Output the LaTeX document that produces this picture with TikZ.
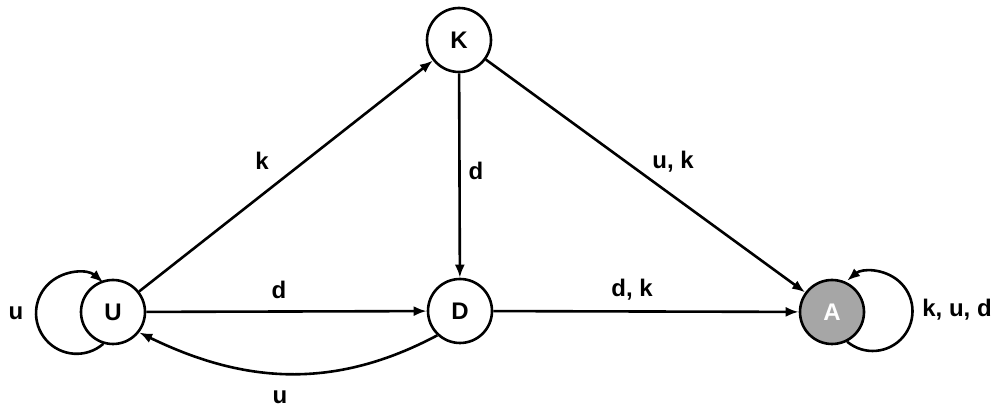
\documentclass[tikz,border=0pt]{standalone}
\usepackage{fontspec}
\setmainfont{Liberation Sans}
\usepackage{tikz}
\usetikzlibrary{arrows.meta,positioning}

\begin{document}
\begin{tikzpicture}[
    every node/.style={font=\fontsize{12}{14}\selectfont\bfseries},
    state/.style={circle, draw=black, line width=1.3pt, minimum size=32pt,
        inner sep=0pt, fill=white},
    accept/.style={state, fill=gray!70, text=white},
    arrow/.style={-{Latex[length=6.5pt,width=5pt]}, line width=1.3pt},
    lbl/.style={inner sep=1pt},
    x=0.5pt, y=-0.5pt,
    ]
    \useasboundingbox (0,0) rectangle (995,410);
    % States
    \node[state]  (U) at (113,312) {U};
    \node[state]  (K) at (459,40)  {K};
    \node[state]  (D) at (460,311) {D};
    \node[accept] (A) at (832,312) {A};
    % Transitions
    \draw[arrow] (U) -- (K);
    \draw[arrow] (U) -- (D);
    \draw[arrow] (K) -- (D);
    \draw[arrow] (K) -- (A);
    \draw[arrow] (D) -- (A);
    \draw[arrow] (D.-133) to[out=208, in=-26] (U.-38);
    % Self loops
    \draw[arrow] (U.-107) arc[start angle=-49, end angle=-311, radius=20.3pt];
    \draw[arrow] (A.-63) arc[start angle=-130, end angle=130, radius=19.9pt];
    % Labels
    \node[lbl] (lUK) at (262,161) {k};
    \node[lbl] (lUD) at (279,290) {d};
    \node[lbl] (lKD) at (476,171) {d};
    \node[lbl] (lKA) at (673,162) {u, k};
    \node[lbl] (lDA) at (632,290) {d, k};
    \node[lbl] (lDU) at (280,397) {u};
    \node[lbl] (lUU) at (16,313)  {u};
    \node[lbl] (lAA) at (957,310) {k, u, d};
\end{tikzpicture}
\end{document}
